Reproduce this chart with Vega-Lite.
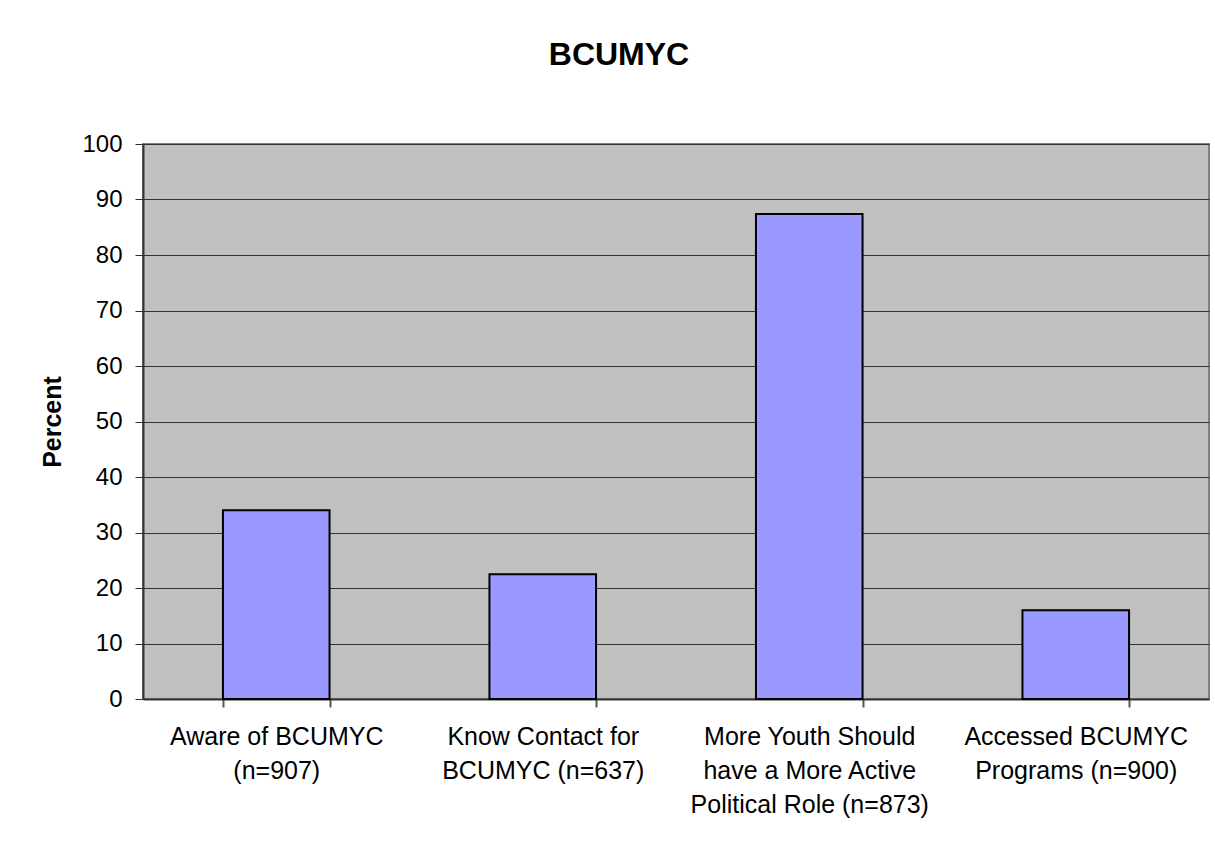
{
  "$schema": "https://vega.github.io/schema/vega-lite/v6.json",
  "width": 1066,
  "height": 555,
  "autosize": {"type": "none"},
  "padding": {"left": 143, "top": 144, "right": 6, "bottom": 147},
  "background": "white",
  "title": {
    "text": "BCUMYC",
    "font": "Liberation Sans",
    "fontSize": 32,
    "fontWeight": "bold",
    "color": "black",
    "anchor": "middle",
    "dx": -57,
    "offset": 35,
    "baseline": "alphabetic"
  },
  "data": {
    "values": [
      {"category": "Aware of BCUMYC|(n=907)", "percent": 34},
      {"category": "Know Contact for|BCUMYC (n=637)", "percent": 22.5},
      {"category": "More Youth Should|have a More Active|Political Role (n=873)", "percent": 87.4},
      {"category": "Accessed BCUMYC|Programs (n=900)", "percent": 16}
    ]
  },
  "mark": {"type": "bar", "fill": "#9999FF", "stroke": "black", "strokeWidth": 2},
  "encoding": {
    "x": {
      "field": "category",
      "type": "nominal",
      "sort": null,
      "scale": {"paddingInner": 0.6, "paddingOuter": 0.3},
      "axis": {
        "title": null,
        "labelAngle": 0,
        "labelExpr": "split(datum.label, '|')",
        "labelFont": "Liberation Sans",
        "labelFontSize": 25,
        "labelLineHeight": 34,
        "labelColor": "black",
        "labelPadding": 17,
        "labelLimit": 0,
        "tickSize": 8,
        "tickColor": "#555555",
        "tickWidth": 2,
        "tickBand": "extent",
        "domainColor": "#333333",
        "domainWidth": 2,
        "grid": false
      }
    },
    "y": {
      "field": "percent",
      "type": "quantitative",
      "scale": {"domain": [0, 100], "nice": false},
      "axis": {
        "values": [0, 10, 20, 30, 40, 50, 60, 70, 80, 90, 100],
        "title": "Percent",
        "titleFont": "Liberation Sans",
        "titleFontSize": 25,
        "titleFontWeight": "bold",
        "titleColor": "black",
        "titlePadding": 16,
        "labelFont": "Liberation Sans",
        "labelFontSize": 24,
        "labelColor": "black",
        "labelPadding": 13,
        "tickSize": 8,
        "tickColor": "#333333",
        "tickWidth": 1,
        "domainColor": "#333333",
        "domainWidth": 2,
        "grid": true,
        "gridColor": "#333333",
        "gridWidth": 1
      }
    }
  },
  "config": {
    "view": {"fill": "#C0C0C0", "stroke": "#808080", "strokeWidth": 2}
  }
}
